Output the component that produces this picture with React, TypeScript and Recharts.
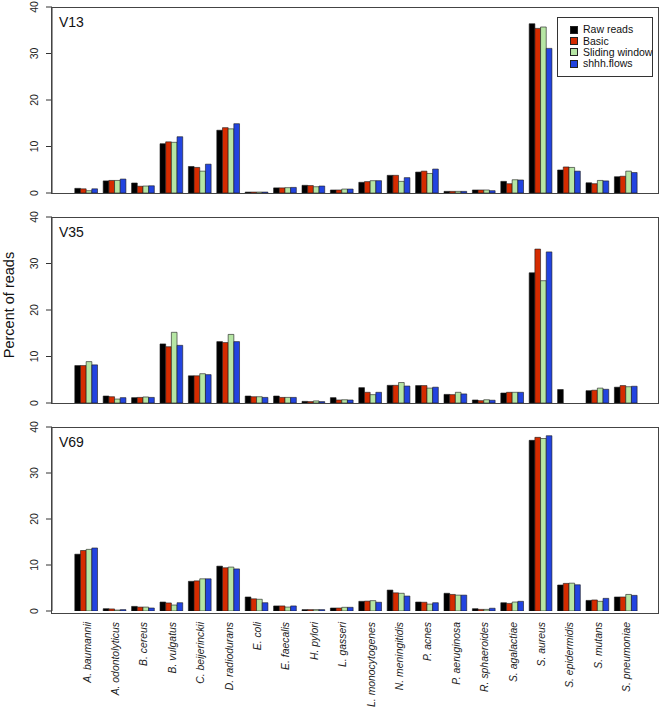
import { BarChart, Bar, XAxis, YAxis } from "recharts";

const species = [
  "A. baumannii", "A. odontolyticus", "B. cereus", "B. vulgatus", "C. beijerinckii",
  "D. radiodurans", "E. coli", "E. faecalis", "H. pylori", "L. gasseri",
  "L. monocytogenes", "N. meningitidis", "P. acnes", "P. aeruginosa", "R. sphaeroides",
  "S. agalactiae", "S. aureus", "S. epidermidis", "S. mutans", "S. pneumoniae",
];

const seriesNames = ["Raw reads", "Basic", "Sliding window", "shhh.flows"];
const seriesKeys = ["raw", "basic", "sliding", "shhh"];
const seriesColors = ["#000000", "#d52b00", "#b6e6a4", "#2244e0"];

const yTicks = [0, 10, 20, 30, 40];

// V13
const v13Raw = [1.0, 2.6, 2.15, 10.6, 5.7, 13.5, 0.2, 1.1, 1.65, 0.65, 2.3, 3.8, 4.5, 0.35, 0.65, 2.5, 36.4, 4.95, 2.2, 3.5];
const v13Basic = [0.9, 2.7, 1.45, 11.0, 5.5, 14.05, 0.2, 1.1, 1.6, 0.65, 2.45, 3.8, 4.7, 0.35, 0.65, 2.0, 35.4, 5.6, 2.0, 3.6];
const v13Sliding = [0.5, 2.7, 1.5, 10.9, 4.7, 13.8, 0.2, 1.15, 1.35, 0.85, 2.65, 2.5, 4.2, 0.35, 0.65, 2.85, 35.7, 5.5, 2.7, 4.7];
const v13Shhh = [0.9, 3.0, 1.55, 12.1, 6.2, 14.9, 0.2, 1.2, 1.5, 0.85, 2.65, 3.3, 5.15, 0.35, 0.5, 2.8, 31.1, 4.7, 2.6, 4.4];

// V35
const v35Raw = [8.05, 1.5, 1.15, 12.7, 5.85, 13.2, 1.5, 1.5, 0.35, 1.15, 3.3, 3.8, 3.75, 1.85, 0.65, 2.15, 28.0, 2.9, 2.65, 3.4];
const v35Basic = [8.05, 1.35, 1.2, 12.1, 5.85, 13.0, 1.35, 1.2, 0.3, 0.65, 2.3, 3.8, 3.75, 1.8, 0.5, 2.3, 33.1, 0, 2.75, 3.75];
const v35Sliding = [8.9, 0.85, 1.3, 15.2, 6.3, 14.75, 1.35, 1.2, 0.45, 0.7, 1.8, 4.4, 3.2, 2.3, 0.7, 2.3, 26.3, 0, 3.2, 3.5];
const v35Shhh = [8.2, 1.15, 1.2, 12.4, 6.1, 13.2, 1.2, 1.2, 0.3, 0.65, 2.3, 3.65, 3.4, 1.95, 0.6, 2.3, 32.5, 0, 2.95, 3.6];

// V69
const v69Raw = [12.35, 0.5, 1.0, 1.95, 6.45, 9.75, 3.05, 1.1, 0.3, 0.65, 2.1, 4.55, 1.95, 3.85, 0.5, 1.8, 37.1, 5.65, 2.3, 3.05];
const v69Basic = [13.15, 0.45, 0.85, 1.75, 6.55, 9.4, 2.65, 1.1, 0.3, 0.65, 2.15, 3.95, 1.9, 3.6, 0.35, 1.65, 37.75, 6.0, 2.4, 3.05];
const v69Sliding = [13.4, 0.2, 0.85, 1.3, 7.0, 9.55, 2.55, 0.85, 0.3, 0.8, 2.25, 3.85, 1.5, 3.45, 0.35, 1.95, 37.5, 6.05, 2.1, 3.6];
const v69Shhh = [13.7, 0.3, 0.65, 1.8, 7.0, 9.15, 1.8, 1.1, 0.3, 0.8, 1.9, 3.25, 1.8, 3.45, 0.6, 2.1, 38.1, 5.7, 2.75, 3.4];

const FONT = "'Liberation Sans', Arial, Helvetica, sans-serif";

function buildRows(raw: number[], basic: number[], sliding: number[], shhh: number[]) {
  return species.map((name, i) => ({
    name,
    raw: raw[i],
    basic: basic[i],
    sliding: sliding[i],
    shhh: shhh[i],
  }));
}

const panels = [
  { label: "V13", top: 0, rows: buildRows(v13Raw, v13Basic, v13Sliding, v13Shhh) },
  { label: "V35", top: 210, rows: buildRows(v35Raw, v35Basic, v35Sliding, v35Shhh) },
  { label: "V69", top: 420, rows: buildRows(v69Raw, v69Basic, v69Sliding, v69Shhh) },
];

// y tick labels turned like R's default (las = 0)
function YTick(props: any) {
  const { y, payload } = props;
  return (
    <g transform={`translate(38, ${y}) rotate(-90)`}>
      <text x={0} y={0} textAnchor="middle" fontSize={10.5} fontFamily={FONT} fill="#222">
        {payload.value}
      </text>
    </g>
  );
}

function SpeciesTick(props: any) {
  const { x, payload } = props;
  return (
    <g transform={`translate(${x + 1}, 202) rotate(-90)`}>
      <text
        x={0}
        y={0}
        dy="0.35em"
        textAnchor="end"
        fontSize={10.4}
        fontStyle="italic"
        fontFamily={FONT}
        fill="#222"
      >
        {payload.value}
      </text>
    </g>
  );
}

function LegendBox() {
  return (
    <div
      style={{
        position: "absolute",
        left: 557,
        top: 17,
        width: 96,
        height: 60,
        boxSizing: "border-box",
        border: "1px solid #333",
        background: "#fff",
        padding: "6px 0 0 12px",
        fontFamily: FONT,
        fontSize: 10.5,
        color: "#111",
      }}
    >
      {seriesNames.map((name, i) => (
        <div key={name} style={{ display: "flex", alignItems: "center", height: 11.4 }}>
          <span
            style={{
              width: 6,
              height: 6,
              background: seriesColors[i],
              border: "1px solid #222",
              marginRight: 5,
              flexShrink: 0,
            }}
          />
          <span style={{ lineHeight: "11px", whiteSpace: "nowrap" }}>{name}</span>
        </div>
      ))}
    </div>
  );
}

function Panel({ label, top, rows, index }: { label: string; top: number; rows: any[]; index: number }) {
  const isLast = index === panels.length - 1;
  const height = isLast ? 288 : 200;
  return (
    <div style={{ position: "absolute", left: 0, top, width: 662, height }}>
      <BarChart
        width={662}
        height={height}
        data={rows}
        margin={{ top: 7, right: 4, bottom: isLast ? 0 : 7, left: 0 }}
        barGap={0}
      >
        <XAxis
          dataKey="name"
          hide={!isLast}
          height={isLast ? 97 : 0}
          padding={{ left: 19.8, right: 18.2 }}
          axisLine={false}
          tickLine={false}
          interval={0}
          tick={<SpeciesTick />}
        />
        <YAxis
          domain={[0, 40]}
          ticks={yTicks}
          interval={0}
          width={52}
          tickSize={6}
          stroke="#333"
          tick={<YTick />}
          allowDataOverflow
        />
        {seriesKeys.map((key, i) => (
          <Bar
            key={key}
            dataKey={key}
            name={seriesNames[i]}
            fill={seriesColors[i]}
            stroke="#1a1a1a"
            strokeWidth={0.6}
            barSize={5.68}
            isAnimationActive={false}
          />
        ))}
      </BarChart>
      <div
        style={{
          position: "absolute",
          left: 51,
          top: 7,
          width: 608,
          height: 187,
          boxSizing: "border-box",
          border: "1px solid #444",
          pointerEvents: "none",
        }}
      />
      <div
        style={{
          position: "absolute",
          left: 59,
          top: 14,
          fontFamily: FONT,
          fontSize: 14,
          color: "#111",
        }}
      >
        {label}
      </div>
    </div>
  );
}

export default function App() {
  return (
    <div style={{ position: "absolute", left: 0, top: 0, width: 662, height: 708, background: "#fff" }}>
      {panels.map((p, i) => (
        <Panel key={p.label} label={p.label} top={p.top} rows={p.rows} index={i} />
      ))}
      <LegendBox />
      <div
        style={{
          position: "absolute",
          left: 9,
          top: 305,
          transform: "translate(-50%, -50%) rotate(-90deg)",
          fontFamily: FONT,
          fontSize: 14.5,
          color: "#111",
          whiteSpace: "nowrap",
        }}
      >
        Percent of reads
      </div>
    </div>
  );
}
